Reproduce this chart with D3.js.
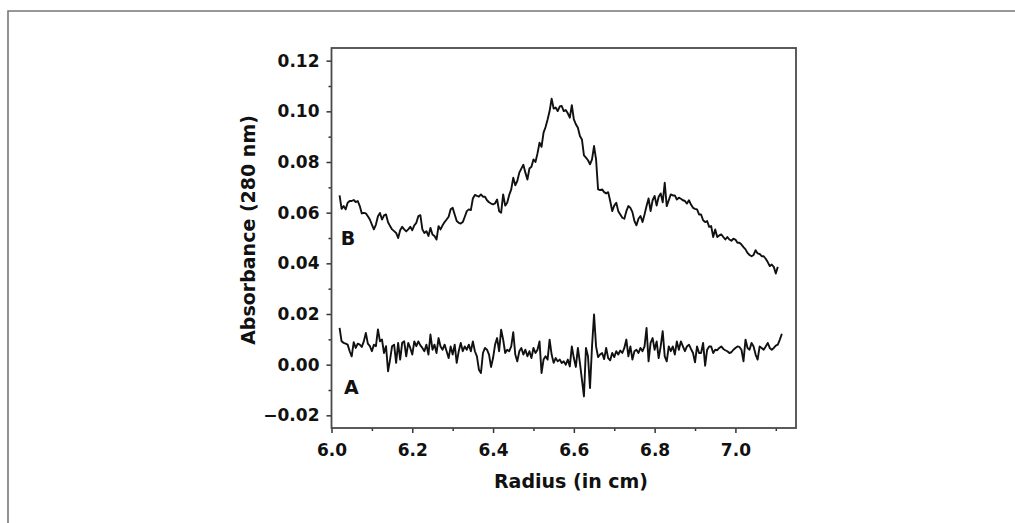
<!DOCTYPE html>
<html>
<head>
<meta charset="utf-8">
<script src="https://cdn.jsdelivr.net/npm/d3@7"></script>
<style>
  body { margin: 0; background: #fff; }
  text { font-family: "DejaVu Sans", sans-serif; font-weight: bold; fill: #111; }
</style>
</head>
<body>
<script>
// radius grid: scans sampled every 0.005 cm starting at 6.02 cm
var radiusStart = 6.02, radiusStep = 0.005;

// trace A (baseline, 280 nm)
var absA = [
  0.0145, 0.0092, 0.0086, 0.0083, 0.0079, 0.0053, 0.0033, 0.0089, 0.0066, 0.0083,
  0.0079, 0.0070, 0.0092, 0.0125, 0.0083, 0.0073, 0.0053, 0.0079, 0.0073, 0.0139,
  0.0092, 0.0099, 0.0046, 0.0073, -0.0026, 0.0020, 0.0073, 0.0079, 0.0007, 0.0086,
  0.0020, 0.0086, 0.0092, 0.0033, 0.0086, 0.0066, 0.0040, 0.0092, 0.0073, 0.0092,
  0.0076, 0.0066, 0.0053, 0.0079, 0.0040, 0.0119, 0.0059, 0.0079, 0.0046, 0.0105,
  0.0072, 0.0059, 0.0079, 0.0053, 0.0026, 0.0072, 0.0040, 0.0079, 0.0007, 0.0053,
  0.0086, 0.0053, 0.0072, 0.0059, 0.0079, 0.0053, 0.0092, 0.0053, 0.0033, -0.0020,
  -0.0033, 0.0046, 0.0066, 0.0059, 0.0040, -0.0009, 0.0026, 0.0079, 0.0105, 0.0053,
  0.0138, 0.0099, 0.0046, 0.0059, 0.0053, 0.0072, 0.0128, 0.0040, 0.0013, 0.0053,
  0.0066, 0.0040, 0.0059, 0.0033, 0.0053, 0.0026, 0.0066, 0.0046, 0.0059, 0.0092,
  -0.0033, 0.0020, 0.0033, 0.0020, 0.0099, 0.0040, 0.0007, 0.0026, 0.0013, 0.0020,
  0.0007, 0.0013, 0.0000, 0.0020, -0.0007, 0.0072, 0.0026, -0.0009, 0.0066, 0.0007,
  -0.0059, -0.0125, 0.0066, 0.0033, -0.0092, 0.0072, 0.0198, 0.0072, 0.0030, 0.0040,
  0.0046, 0.0022, 0.0066, 0.0026, 0.0017, 0.0046, 0.0030, 0.0053, 0.0040, 0.0056,
  0.0046, 0.0066, 0.0099, 0.0033, 0.0072, 0.0020, 0.0053, 0.0059, 0.0046, 0.0066,
  0.0053, 0.0072, 0.0145, 0.0013, 0.0086, 0.0105, 0.0059, 0.0092, 0.0026, 0.0072,
  0.0132, 0.0033, 0.0013, 0.0072, 0.0053, 0.0072, 0.0040, 0.0092, 0.0059, 0.0092,
  0.0072, 0.0053, 0.0072, 0.0079, 0.0062, 0.0046, 0.0009, 0.0072, 0.0046, 0.0046,
  0.0086, -0.0004, 0.0059, 0.0072, 0.0072, 0.0046, 0.0059, 0.0057, 0.0066, 0.0072,
  0.0062, 0.0057, 0.0053, 0.0046, 0.0049, 0.0059, 0.0066, 0.0072, 0.0070, 0.0059,
  0.0013, 0.0099, 0.0066, 0.0059, 0.0086, 0.0072, 0.0040, 0.0020, 0.0072, 0.0066,
  0.0059, 0.0072, 0.0086, 0.0066, 0.0059, 0.0066, 0.0075, 0.0079, 0.0099, 0.0122
];

// trace B (sample, 280 nm)
var absB = [
  0.0668, 0.0615, 0.0626, 0.0613, 0.0639, 0.0646, 0.0646, 0.0650, 0.0642, 0.0646,
  0.0626, 0.0597, 0.0599, 0.0597, 0.0586, 0.0573, 0.0553, 0.0534, 0.0553, 0.0586,
  0.0599, 0.0573, 0.0589, 0.0593, 0.0562, 0.0547, 0.0534, 0.0527, 0.0520, 0.0500,
  0.0531, 0.0544, 0.0534, 0.0526, 0.0534, 0.0544, 0.0531, 0.0550, 0.0560, 0.0586,
  0.0590, 0.0534, 0.0520, 0.0527, 0.0508, 0.0540, 0.0514, 0.0508, 0.0494, 0.0547,
  0.0534, 0.0550, 0.0563, 0.0573, 0.0584, 0.0613, 0.0619, 0.0593, 0.0567, 0.0560,
  0.0557, 0.0563, 0.0584, 0.0606, 0.0613, 0.0610, 0.0656, 0.0670, 0.0666, 0.0663,
  0.0672, 0.0663, 0.0663, 0.0649, 0.0641, 0.0636, 0.0633, 0.0637, 0.0652, 0.0606,
  0.0600, 0.0672, 0.0628, 0.0639, 0.0670, 0.0692, 0.0738, 0.0708, 0.0725, 0.0758,
  0.0774, 0.0789, 0.0758, 0.0731, 0.0774, 0.0781, 0.0810, 0.0800, 0.0834, 0.0876,
  0.0860, 0.0916, 0.0938, 0.0968, 0.1001, 0.1050, 0.1011, 0.1015, 0.1001, 0.1019,
  0.1021, 0.1001, 0.1005, 0.0992, 0.0975, 0.1024, 0.0968, 0.0949, 0.0935, 0.0903,
  0.0889, 0.0826, 0.0817, 0.0807, 0.0791, 0.0810, 0.0863, 0.0810, 0.0692, 0.0689,
  0.0692, 0.0681, 0.0676, 0.0681, 0.0646, 0.0606, 0.0628, 0.0639, 0.0606, 0.0593,
  0.0580, 0.0576, 0.0606, 0.0626, 0.0619, 0.0602, 0.0567, 0.0550, 0.0576, 0.0587,
  0.0563, 0.0593, 0.0626, 0.0656, 0.0606, 0.0649, 0.0666, 0.0628, 0.0663, 0.0676,
  0.0641, 0.0718, 0.0626, 0.0649, 0.0672, 0.0668, 0.0668, 0.0652, 0.0659, 0.0655,
  0.0649, 0.0646, 0.0636, 0.0649, 0.0632, 0.0619, 0.0615, 0.0613, 0.0593, 0.0593,
  0.0570, 0.0563, 0.0567, 0.0544, 0.0547, 0.0504, 0.0534, 0.0504, 0.0510, 0.0514,
  0.0504, 0.0494, 0.0504, 0.0494, 0.0489, 0.0497, 0.0494, 0.0481, 0.0481, 0.0474,
  0.0464, 0.0455, 0.0441, 0.0433, 0.0428, 0.0433, 0.0452, 0.0439, 0.0437, 0.0428,
  0.0428, 0.0418, 0.0405, 0.0389, 0.0395, 0.0386, 0.0360, 0.0386
];

var xMajor = [6.0, 6.2, 6.4, 6.6, 6.8, 7.0];
var xMinor = [6.1, 6.3, 6.5, 6.7, 6.9, 7.1];
var yMajor = [-0.02, 0.00, 0.02, 0.04, 0.06, 0.08, 0.10, 0.12];
var yMinor = [-0.01, 0.01, 0.03, 0.05, 0.07, 0.09, 0.11];

// curve labels: [text, radius, absorbance] at the baseline-left of the letter
var curveLabels = [["B", 6.023, 0.0474], ["A", 6.031, -0.0116]];

var W = 1015, H = 523;
var plot = {left: 331.5, right: 796, top: 48, bottom: 428};

var svg = d3.select("body").append("svg")
  .attr("width", W)
  .attr("height", H);

// outer figure border (top and left edge only)
svg.append("path")
  .attr("d", "M8," + H + "V11H" + W)
  .attr("fill", "none")
  .attr("stroke", "#777")
  .attr("stroke-width", 1.6);

var x = d3.scaleLinear().domain([6.0, 7.15]).range([plot.left, plot.right]);
var y = d3.scaleLinear().domain([-0.025, 0.125]).range([plot.bottom, plot.top]);

function toPoints(vals) {
  return vals.map(function(v, i) { return [radiusStart + i * radiusStep, v]; });
}

// minor ticks
svg.append("g")
  .attr("transform", "translate(0," + plot.bottom + ")")
  .call(d3.axisBottom(x).tickValues(xMinor).tickSize(3).tickFormat(""))
  .call(function(g) { g.select(".domain").remove(); });
svg.append("g")
  .attr("transform", "translate(" + plot.left + ",0)")
  .call(d3.axisLeft(y).tickValues(yMinor).tickSize(3).tickFormat(""))
  .call(function(g) { g.select(".domain").remove(); });

// major ticks + labels
var xAxis = svg.append("g")
  .attr("transform", "translate(0," + plot.bottom + ")")
  .call(d3.axisBottom(x).tickValues(xMajor).tickSize(5).tickPadding(11).tickFormat(d3.format(".1f")));
xAxis.select(".domain").remove();

var yAxis = svg.append("g")
  .attr("transform", "translate(" + plot.left + ",0)")
  .call(d3.axisLeft(y).tickValues(yMajor).tickSize(5).tickPadding(7).tickFormat(d3.format(".2f")));
yAxis.select(".domain").remove();

svg.selectAll(".tick line").attr("stroke", "#333").attr("stroke-width", 1.5);
svg.selectAll(".tick text")
  .attr("font-family", null)
  .attr("font-size", null)
  .style("font-size", "17px")
  .attr("fill", "#111");

// plot frame
svg.append("rect")
  .attr("x", plot.left)
  .attr("y", plot.top)
  .attr("width", plot.right - plot.left)
  .attr("height", plot.bottom - plot.top)
  .attr("fill", "none")
  .attr("stroke", "#4a4a4a")
  .attr("stroke-width", 1.8);

var line = d3.line()
  .x(function(d) { return x(d[0]); })
  .y(function(d) { return y(d[1]); });

[absB, absA].forEach(function(vals) {
  svg.append("path")
    .datum(toPoints(vals))
    .attr("d", line)
    .attr("fill", "none")
    .attr("stroke", "#111")
    .attr("stroke-width", 1.9)
    .attr("stroke-linejoin", "round");
});

svg.selectAll(".curve-label")
  .data(curveLabels)
  .enter().append("text")
  .attr("class", "curve-label")
  .attr("x", function(d) { return x(d[1]); })
  .attr("y", function(d) { return y(d[2]); })
  .style("font-size", "19px")
  .text(function(d) { return d[0]; });

// axis titles
svg.append("text")
  .attr("x", 571)
  .attr("y", 488)
  .attr("text-anchor", "middle")
  .style("font-size", "19px")
  .text("Radius (in cm)");

svg.append("text")
  .attr("transform", "translate(255,230) rotate(-90)")
  .attr("text-anchor", "middle")
  .style("font-size", "19px")
  .text("Absorbance (280 nm)");
</script>
</body>
</html>
